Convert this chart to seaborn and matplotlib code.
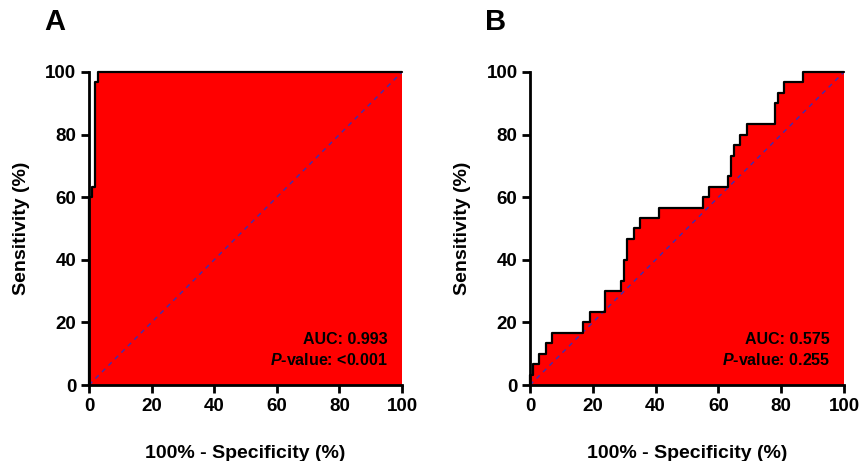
import matplotlib
matplotlib.use("Agg")
import matplotlib.pyplot as plt
import seaborn as sns
import pandas as pd

# ---- data ----
ticks = [0, 20, 40, 60, 80, 100]
panel_labels = ["A", "B"]

fpr_a = [0, 0, 1.1, 2.0, 2.9, 100]
tpr_a = [0, 60.0, 63.3, 96.7, 100, 100]

fpr_b = [0, 0, 0.8, 3, 5, 7, 17, 19, 24, 29, 30, 31, 33, 35, 41, 55, 57, 63,
         64, 65, 67, 69, 78, 79, 81, 87, 100]
tpr_b = [0, 3.3, 6.7, 10.0, 13.3, 16.7, 20.0, 23.3, 30.0, 33.3, 40.0, 46.7,
         50.0, 53.3, 56.7, 60.0, 63.3, 66.7, 73.3, 76.7, 80.0, 83.3, 90.0,
         93.3, 96.7, 100, 100]

auc_texts = ["AUC: 0.993", "AUC: 0.575"]
p_texts = ["-value: <0.001", "-value: 0.255"]
diag = [0, 100]

sns.set_theme(style="ticks")
plt.rcParams["font.family"] = ["Liberation Sans", "DejaVu Sans"]
plt.rcParams["font.weight"] = "bold"
plt.rcParams["text.color"] = "black"
plt.rcParams["axes.labelcolor"] = "black"
plt.rcParams["xtick.color"] = "black"
plt.rcParams["ytick.color"] = "black"
plt.rcParams["mathtext.fontset"] = "custom"
plt.rcParams["mathtext.it"] = "Liberation Sans:italic:bold"
plt.rcParams["mathtext.rm"] = "Liberation Sans:bold"
plt.rcParams["mathtext.bf"] = "Liberation Sans:bold"

fig = plt.figure(figsize=(8.59, 4.61), dpi=100)
axA = fig.add_axes([89 / 859, 76 / 461, 313 / 859, 313 / 461])
axB = fig.add_axes([530 / 859, 76 / 461, 314 / 859, 313 / 461])

datasets = [(fpr_a, tpr_a), (fpr_b, tpr_b)]
for i, (ax, (fx, ty)) in enumerate(zip([axA, axB], datasets)):
    df = pd.DataFrame({"fpr": fx, "tpr": ty})
    ax.fill_between(df["fpr"], df["tpr"], 0, step="post", color="#ff0000",
                    linewidth=0, zorder=1)
    sns.lineplot(data=df, x="fpr", y="tpr", ax=ax, sort=False, estimator=None,
                 drawstyle="steps-post", color="black", linewidth=1.6,
                 zorder=3, clip_on=False)
    sns.lineplot(x=diag, y=diag, ax=ax, color="#4a2aa8", linewidth=1.1,
                 linestyle=(0, (3, 3)), zorder=2, estimator=None)
    ax.set_xlim(0, 100)
    ax.set_ylim(0, 100)
    ax.set_xticks(ticks)
    ax.set_yticks(ticks)
    ax.set_xticklabels([str(t) for t in ticks], fontsize=13.5, fontweight="bold")
    ax.set_yticklabels([str(t) for t in ticks], fontsize=13.5, fontweight="bold")
    ax.tick_params(axis="both", direction="out", length=6, width=2.0,
                   color="black", pad=3, labelcolor="black")
    sns.despine(ax=ax)
    for s in ["left", "bottom"]:
        ax.spines[s].set_linewidth(2.0)
        ax.spines[s].set_color("black")
        ax.spines[s].set_zorder(4)
    ax.set_xlabel("100% - Specificity (%)", fontsize=14, fontweight="bold",
                  labelpad=22, color="black")
    ax.set_ylabel("Sensitivity (%)", fontsize=14, fontweight="bold",
                  labelpad=11, color="black")
    ax.text(0.955, 0.145, auc_texts[i], transform=ax.transAxes, ha="right",
            va="center", fontsize=11.5, fontweight="bold", zorder=5,
            color="black")
    ax.text(0.955, 0.08, r"$\mathit{P}$" + p_texts[i], transform=ax.transAxes,
            ha="right", va="center", fontsize=11.5, fontweight="bold", zorder=5,
            color="black")
    ax.text(-0.11, 1.16, panel_labels[i], transform=ax.transAxes, ha="center",
            va="center", fontsize=21, fontweight="bold", color="black")

fig.savefig("out.png", dpi=100)
